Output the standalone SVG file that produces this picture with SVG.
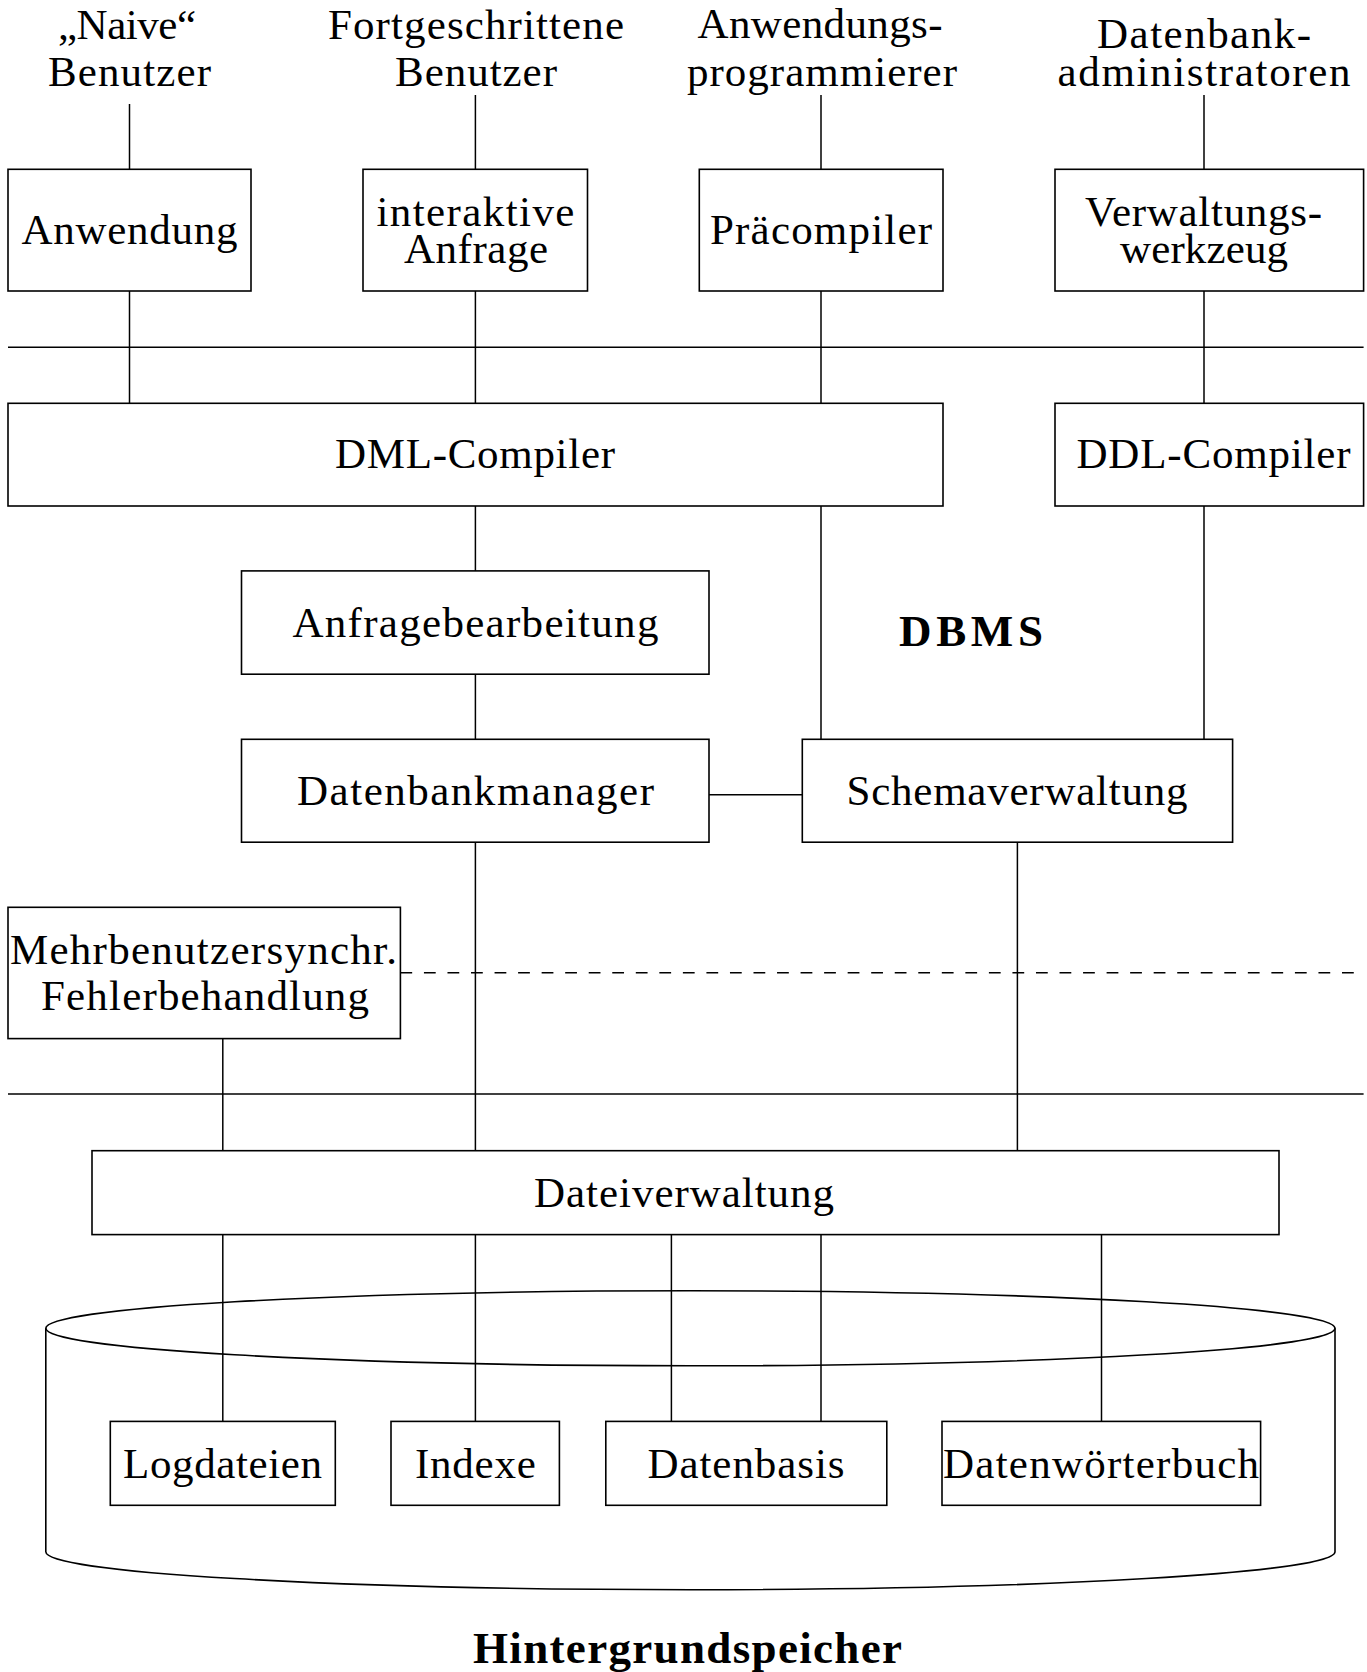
<svg xmlns="http://www.w3.org/2000/svg" width="1367" height="1672" viewBox="0 0 1367 1672">
  <style>
    text { font-family: "Liberation Serif", "Times New Roman", serif; font-size: 43px; fill: #000; text-anchor: middle; }
    text.bold { font-weight: bold; font-size: 45px; }
    .box { fill: none; stroke: #000; stroke-width: 1.6; }
    .wire { fill: none; stroke: #000; stroke-width: 1.5; }
    .dash { stroke-dasharray: 11.77 11.77; }
  </style>
  <rect width="1367" height="1672" fill="#fff"/>

  <!-- user groups (labels only) -->
  <g id="user-naive">
    <text x="127" y="39.3" textLength="138" lengthAdjust="spacing">„Naive“</text>
    <text x="129.5" y="85.5" textLength="163" lengthAdjust="spacing">Benutzer</text>
  </g>
  <g id="user-advanced">
    <text x="476" y="39.3" textLength="296" lengthAdjust="spacing">Fortgeschrittene</text>
    <text x="476" y="86" textLength="162" lengthAdjust="spacing">Benutzer</text>
  </g>
  <g id="user-programmer">
    <text x="820" y="38.3" textLength="245" lengthAdjust="spacing">Anwendungs-</text>
    <text x="822" y="86" textLength="270" lengthAdjust="spacing">programmierer</text>
  </g>
  <g id="user-dba">
    <text x="1204" y="48.3" textLength="214" lengthAdjust="spacing">Datenbank-</text>
    <text x="1204" y="86" textLength="293" lengthAdjust="spacing">administratoren</text>
  </g>

  <!-- tool layer -->
  <g id="anwendung">
    <rect class="box" x="8" y="169.3" width="243" height="121.7"/>
    <text x="129.5" y="244.3" textLength="216" lengthAdjust="spacing">Anwendung</text>
  </g>
  <g id="interaktive-anfrage">
    <rect class="box" x="363" y="169.3" width="224.5" height="121.7"/>
    <text x="475.4" y="226" textLength="198" lengthAdjust="spacing">interaktive</text>
    <text x="476" y="263.3" textLength="144" lengthAdjust="spacing">Anfrage</text>
  </g>
  <g id="praecompiler">
    <rect class="box" x="699.3" y="169.3" width="243.7" height="121.7"/>
    <text x="821" y="244.3" textLength="222" lengthAdjust="spacing">Präcompiler</text>
  </g>
  <g id="verwaltungswerkzeug">
    <rect class="box" x="1055" y="169.3" width="308.6" height="121.7"/>
    <text x="1203.5" y="226" textLength="237" lengthAdjust="spacing">Verwaltungs-</text>
    <text x="1204" y="263.3" textLength="168" lengthAdjust="spacing">werkzeug</text>
  </g>

  <!-- compilers -->
  <g id="dml-compiler">
    <rect class="box" x="8" y="403.3" width="935" height="102.7"/>
    <text x="475" y="468.3" textLength="280" lengthAdjust="spacing">DML-Compiler</text>
  </g>
  <g id="ddl-compiler">
    <rect class="box" x="1055" y="403.3" width="308.6" height="102.7"/>
    <text x="1213.5" y="468.3" textLength="274" lengthAdjust="spacing">DDL-Compiler</text>
  </g>

  <g id="anfragebearbeitung">
    <rect class="box" x="241.5" y="570.9" width="467.5" height="103.3"/>
    <text x="475.4" y="636.7" textLength="366" lengthAdjust="spacing">Anfragebearbeitung</text>
  </g>
  <g id="dbms-label">
    <text class="bold" x="971" y="645.5" textLength="144" lengthAdjust="spacing">DBMS</text>
  </g>
  <g id="datenbankmanager">
    <rect class="box" x="241.5" y="739.3" width="467.5" height="102.9"/>
    <text x="475.5" y="805" textLength="357" lengthAdjust="spacing">Datenbankmanager</text>
  </g>
  <g id="schemaverwaltung">
    <rect class="box" x="802.3" y="739.3" width="430.3" height="102.9"/>
    <text x="1017" y="805" textLength="341" lengthAdjust="spacing">Schemaverwaltung</text>
  </g>
  <g id="mehrbenutzersynchronisation">
    <rect class="box" x="8" y="907.3" width="392.4" height="131.3"/>
    <text x="203.5" y="964" textLength="387" lengthAdjust="spacing">Mehrbenutzersynchr.</text>
    <text x="205" y="1010" textLength="328" lengthAdjust="spacing">Fehlerbehandlung</text>
  </g>
  <g id="dateiverwaltung">
    <rect class="box" x="92" y="1150.7" width="1187" height="83.9"/>
    <text x="684" y="1206.5" textLength="300" lengthAdjust="spacing">Dateiverwaltung</text>
  </g>

  <!-- background storage cylinder -->
  <g id="hintergrundspeicher">
    <ellipse class="box" cx="690.4" cy="1328.3" rx="644.6" ry="37.5"/>
    <path class="box" d="M45.8,1328.3 V1551.7 A644.6,38 0 0 0 1335,1551.7 V1328.3"/>
    <text class="bold" x="687.5" y="1663" textLength="429" lengthAdjust="spacing">Hintergrundspeicher</text>
  </g>
  <g id="logdateien">
    <rect class="box" x="110.3" y="1421.4" width="225" height="83.9"/>
    <text x="222.5" y="1477.6" textLength="199" lengthAdjust="spacing">Logdateien</text>
  </g>
  <g id="indexe">
    <rect class="box" x="391" y="1421.4" width="168.4" height="83.9"/>
    <text x="475.4" y="1477.6" textLength="121" lengthAdjust="spacing">Indexe</text>
  </g>
  <g id="datenbasis">
    <rect class="box" x="605.8" y="1421.4" width="281" height="83.9"/>
    <text x="746" y="1477.6" textLength="197" lengthAdjust="spacing">Datenbasis</text>
  </g>
  <g id="datenwoerterbuch">
    <rect class="box" x="942" y="1421.4" width="318.6" height="83.9"/>
    <text x="1101" y="1477.6" textLength="316" lengthAdjust="spacing">Datenwörterbuch</text>
  </g>

  <!-- connectors and layer separators -->
  <g id="connectors" class="wire">
    <line x1="8" y1="347.3" x2="1363.6" y2="347.3"/>
    <line x1="8" y1="1094" x2="1363.6" y2="1094"/>
    <line class="dash" x1="400.4" y1="972.7" x2="1354" y2="972.7"/>

    <line x1="129.5" y1="104" x2="129.5" y2="169.3"/>
    <line x1="129.5" y1="291" x2="129.5" y2="403.3"/>

    <line x1="475.4" y1="95" x2="475.4" y2="169.3"/>
    <line x1="475.4" y1="291" x2="475.4" y2="403.3"/>
    <line x1="475.4" y1="506" x2="475.4" y2="570.9"/>
    <line x1="475.4" y1="674.2" x2="475.4" y2="739.3"/>
    <line x1="475.4" y1="842.2" x2="475.4" y2="1150.7"/>

    <line x1="821" y1="95" x2="821" y2="169.3"/>
    <line x1="821" y1="291" x2="821" y2="403.3"/>
    <line x1="821" y1="506" x2="821" y2="739.3"/>

    <line x1="1204" y1="95" x2="1204" y2="169.3"/>
    <line x1="1204" y1="291" x2="1204" y2="403.3"/>
    <line x1="1204" y1="506" x2="1204" y2="739.3"/>

    <line x1="709" y1="794.8" x2="802.3" y2="794.8"/>

    <line x1="222.8" y1="1038.6" x2="222.8" y2="1150.7"/>
    <line x1="1017.4" y1="842.2" x2="1017.4" y2="1150.7"/>

    <line x1="222.8" y1="1234.6" x2="222.8" y2="1421.4"/>
    <line x1="475.4" y1="1234.6" x2="475.4" y2="1421.4"/>
    <line x1="671.4" y1="1234.6" x2="671.4" y2="1421.4"/>
    <line x1="821" y1="1234.6" x2="821" y2="1421.4"/>
    <line x1="1101.5" y1="1234.6" x2="1101.5" y2="1421.4"/>
  </g>
</svg>
